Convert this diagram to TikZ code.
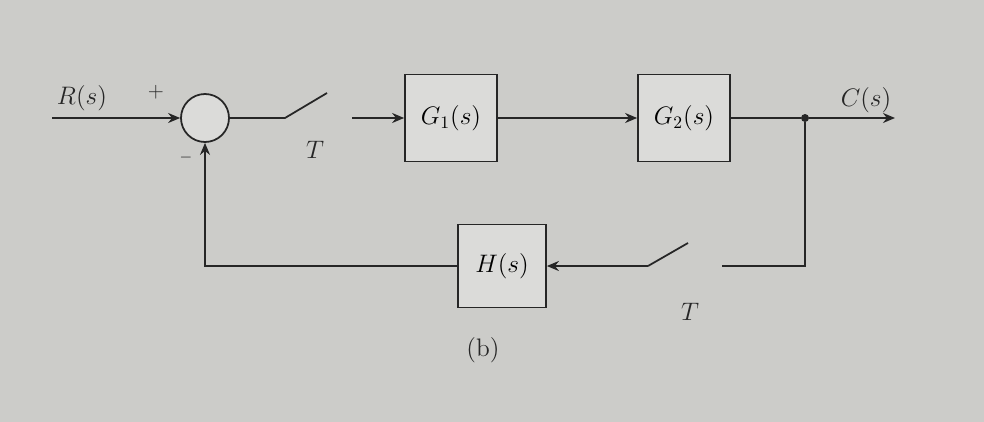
\documentclass[tikz,border=0pt]{standalone}
\usepackage{amsmath}
\usetikzlibrary{arrows.meta,calc,positioning}
\definecolor{papergray}{rgb}{0.80,0.80,0.79}
\definecolor{boxgray}{rgb}{0.86,0.86,0.85}
\definecolor{inkgray}{rgb}{0.15,0.15,0.15}
\tikzset{
  bloque/.style={
    draw=inkgray,
    fill=boxgray,
    line width=1pt,
    minimum width=1.84cm,
    minimum height=1.74cm,
    inner sep=2pt,
    font=\Large
  },
  suma/.style={
    circle,
    draw=inkgray,
    fill=boxgray,
    line width=1pt,
    minimum size=.96cm,
    inner sep=0pt
  },
  rama/.style={
    circle,
    fill=inkgray,
    inner sep=1.6pt
  },
  etiqueta/.style={
    text=inkgray,
    font=\Large
  },
  senal/.style={
    line width=1pt,
    inkgray
  },
  arrow/.style={
    -{Stealth[length=2.4mm,width=2mm]},
    line width=1pt,
    inkgray
  }
}

\begin{document}
\begin{tikzpicture}[x=.2mm,y=-.2mm]
\fill[papergray] (0,0) rectangle (984,422);
\useasboundingbox (0,0) rectangle (984,422);
\node[suma] (sum) at (205,118) {};
\node[bloque] (g1) at (451,118) {$G_1(s)$};
\node[bloque] (g2) at (684,118) {$G_2(s)$};
\node[bloque,minimum width=1.76cm,minimum height=1.66cm] (h) at (502,266) {$H(s)$};
\node[rama] (dot) at (805,118) {};
\coordinate (in) at (52,118);
\coordinate (out) at (895,118);
\coordinate (t1a) at (285,118);
\coordinate (t1b) at (327,93);
\coordinate (t1c) at (352,118);
\coordinate (t2a) at (722,266);
\coordinate (t2b) at (688,243);
\coordinate (t2c) at (648,266);
\node[etiqueta] (rlab) at (82,98) {$R(s)$};
\node[etiqueta,font=\large] (plus) at (156,92) {$+$};
\node[etiqueta,font=\small] (minus) at (186,158) {$-$};
\node[etiqueta] (tlab1) at (315,150) {$T$};
\node[etiqueta] (clab) at (866,100) {$C(s)$};
\node[etiqueta] (tlab2) at (690,312) {$T$};
\node[etiqueta] (cap) at (483,350) {(b)};
\draw[arrow] (in) -- (sum.west);
\draw[senal] (sum.east) -- (t1a) -- (t1b);
\draw[arrow] (t1c) -- (g1.west);
\draw[arrow] (g1.east) -- (g2.west);
\draw[senal] (g2.east) -- (dot);
\draw[arrow] (dot) -- (out);
\draw[senal] (dot) |- (t2a);
\draw[senal] (t2b) -- (t2c);
\draw[arrow] (t2c) -- (h.east);
\draw[arrow] (h.west) -| (sum.south);
\end{tikzpicture}
\end{document}
